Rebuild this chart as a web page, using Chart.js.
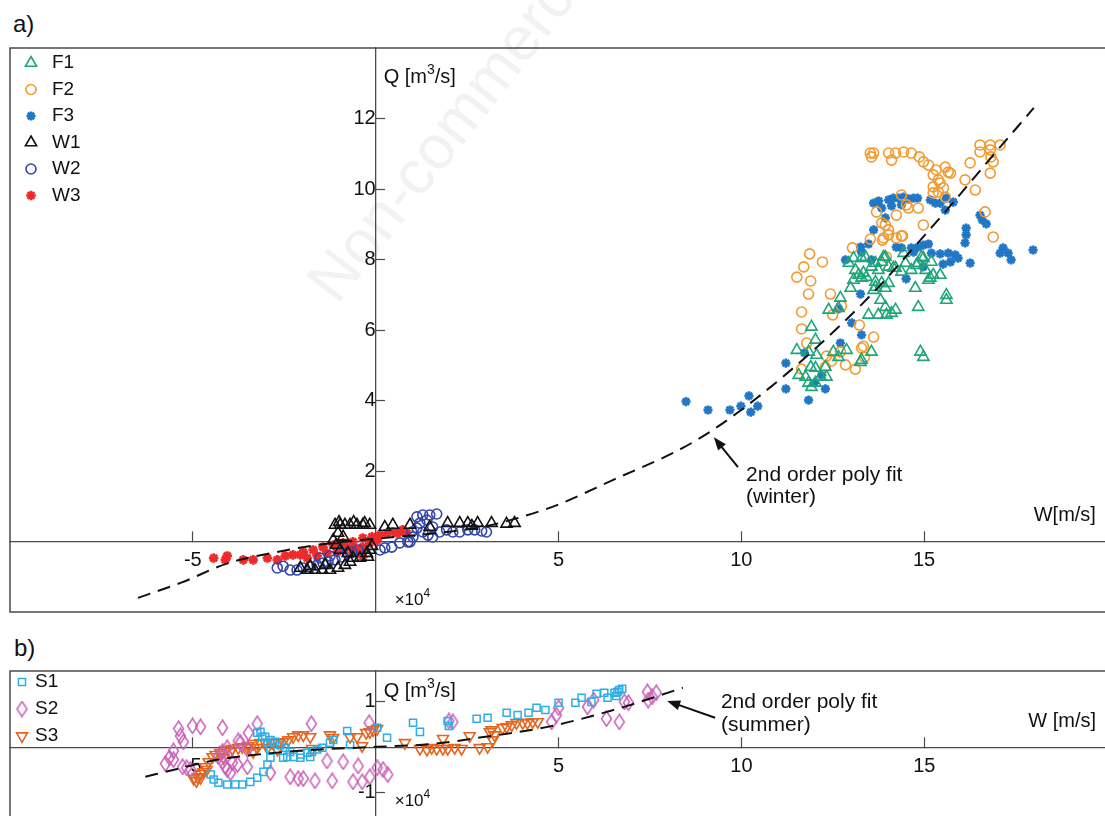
<!DOCTYPE html>
<html>
<head>
<meta charset="utf-8">
<script src="https://cdn.jsdelivr.net/npm/chart.js@4.4.0/dist/chart.umd.min.js"></script>
<style>
  html, body { margin: 0; padding: 0; background: #fff; overflow: hidden; }
  body { width: 1105px; height: 816px; position: relative; font-family: "Liberation Sans", Arial, sans-serif; color: #111; }
  .tag { position: absolute; font-size: 24px; line-height: 24px; }
  .wm { position: absolute; left: 345px; top: 250px; font-size: 62px; line-height: 62px; color: #f2f2f2;
        transform-origin: left bottom; transform: rotate(-52deg); white-space: nowrap; }
  canvas { position: absolute; left: 0; }
  #chartA { top: 38px; }
  #chartB { top: 660px; }
</style>
</head>
<body>
<div class="wm">Non-commercial</div>
<div class="tag" style="left:13px; top:12px;">a)</div>
<div class="tag" style="left:14px; top:636px;">b)</div>
<canvas id="chartA" width="1115" height="584"></canvas>
<canvas id="chartB" width="1115" height="170"></canvas>
<script>
// tick labels
const xTickLabels = [-5, 5, 10, 15];
const yTickLabelsA = [2, 4, 6, 8, 10, 12];
const yTickLabelsB = [-1, 1];

// panel a) winter / autumn series, [W (x1e4 m/s), Q (m3/s)]
const F1 = [[11.52,5.43],[11.57,4.72],[11.76,4.67],[11.84,4.50],[11.90,4.95],[11.92,4.38],[12.03,4.50],[12.03,4.92],[12.17,4.67],[12.30,4.95],[12.33,4.67],[11.92,6.09],[12.03,5.72],[11.84,5.38],[12.06,5.29],[12.52,5.38],[12.66,5.23],[12.88,5.43],[13.26,5.09],[13.56,5.38],[12.39,6.57],[12.66,6.62],[12.71,6.91],[12.99,7.19],[12.94,7.90],[13.07,8.04],[13.12,7.70],[13.21,7.56],[13.34,7.62],[13.29,7.48],[13.42,7.50],[13.07,7.42],[13.56,7.79],[13.67,7.90],[13.84,7.93],[13.94,8.07],[13.75,7.70],[14.03,7.79],[14.22,7.76],[14.49,7.90],[14.38,7.65],[14.65,7.70],[14.84,7.90],[14.98,8.04],[15.04,7.70],[15.20,7.93],[15.17,7.48],[13.67,7.36],[13.84,7.33],[14.03,7.33],[13.67,7.22],[13.62,7.13],[13.94,7.19],[14.76,7.19],[13.81,6.85],[13.94,6.65],[14.84,6.65],[13.48,6.43],[13.75,6.43],[13.97,6.43],[14.11,6.48],[14.22,6.57],[14.90,5.38],[14.98,5.23],[13.29,8.04],[13.40,8.07],[13.89,8.07],[14.16,7.76],[14.44,8.18],[14.79,7.84],[14.93,8.07],[15.25,7.56],[15.44,7.56],[15.12,7.42],[15.61,6.99],[15.61,6.85],[13.29,5.15]];
const F2 = [[13.53,11.02],[13.62,11.02],[13.56,10.91],[13.70,9.35],[13.53,8.58],[13.04,8.33],[11.87,8.16],[12.22,7.93],[11.71,7.79],[11.52,7.50],[11.90,7.39],[11.84,7.02],[12.44,7.02],[11.65,6.51],[12.50,6.43],[12.74,6.68],[11.65,6.03],[13.23,6.14],[11.79,5.63],[13.62,5.80],[13.34,5.54],[12.33,5.26],[12.47,5.12],[12.71,5.38],[12.30,4.95],[11.65,4.89],[12.85,5.01],[13.12,4.89],[13.37,5.23],[13.86,8.55],[14.03,8.70],[14.41,8.67],[14.24,8.61],[13.97,8.07],[14.03,11.02],[14.22,11.02],[14.11,10.82],[14.44,11.05],[14.65,11.02],[14.87,10.91],[14.98,10.77],[15.12,10.68],[15.33,10.54],[15.58,10.62],[15.66,10.48],[15.72,10.45],[15.25,10.40],[15.39,10.26],[15.44,10.17],[15.25,10.06],[15.53,10.03],[15.39,9.91],[15.25,9.89],[15.58,9.77],[14.38,9.83],[14.52,9.55],[14.57,9.46],[14.84,9.46],[14.24,9.26],[13.84,9.04],[13.94,8.98],[14.03,8.84],[13.89,8.61],[14.38,8.67],[14.98,8.98],[16.26,10.74],[16.12,10.26],[16.40,9.97],[16.53,11.25],[16.81,11.25],[17.08,11.25],[16.53,11.05],[16.81,11.11],[16.83,10.91],[16.89,10.77],[16.81,10.45],[16.67,9.35],[16.89,8.64],[13.29,5.49]];
const F3 = [[8.49,3.97],[9.09,3.73],[9.69,3.73],[9.99,3.84],[10.21,4.13],[10.26,3.67],[10.45,3.84],[11.22,4.33],[11.84,4.01],[12.30,4.33],[12.00,4.50],[11.22,5.06],[11.73,5.35],[12.20,4.72],[12.71,5.63],[13.02,6.20],[13.29,5.86],[12.66,6.60],[13.26,7.02],[12.85,7.99],[13.29,8.21],[13.48,8.44],[13.62,8.84],[13.62,9.60],[13.76,9.66],[14.03,9.69],[14.16,9.74],[14.30,9.74],[14.44,9.77],[14.57,9.72],[14.71,9.74],[14.82,9.74],[13.84,9.46],[14.11,9.52],[14.38,9.55],[15.17,9.69],[15.31,9.60],[15.44,9.60],[15.61,9.74],[15.80,9.63],[15.58,9.40],[13.94,9.18],[13.56,7.99],[14.24,8.35],[14.38,8.33],[14.65,8.33],[14.84,8.35],[14.98,8.41],[15.12,8.44],[14.71,8.21],[14.98,7.79],[14.51,7.45],[15.20,8.18],[15.44,8.16],[15.66,8.18],[15.85,8.13],[15.93,8.04],[15.72,7.93],[15.52,7.87],[16.26,7.90],[16.12,8.47],[16.15,8.70],[16.15,8.89],[16.53,9.26],[16.59,9.12],[16.70,9.01],[17.08,8.18],[17.16,8.33],[17.30,8.18],[17.38,7.99],[17.98,8.27],[13.26,8.35]];
const W1 = [[-1.11,0.47],[-0.97,0.47],[-0.84,0.47],[-0.70,0.47],[-0.51,0.47],[-0.35,0.47],[-0.16,0.47],[-1.00,0.55],[-0.60,0.55],[-0.30,0.52],[0.25,0.41],[0.47,0.47],[0.94,0.47],[1.48,0.41],[1.97,0.52],[2.30,0.52],[2.52,0.52],[2.63,0.44],[2.79,0.52],[3.17,0.52],[3.58,0.50],[3.80,0.52],[-1.03,0.24],[-0.89,0.13],[-1.16,0.04],[-1.08,-0.10],[-0.97,-0.24],[-0.76,-0.33],[-0.62,-0.47],[-0.43,-0.47],[-0.24,-0.33],[-0.16,-0.24],[-0.21,-0.44],[-0.10,-0.13],[-0.70,-0.58],[-0.84,-0.67],[-1.03,-0.75],[-1.25,-0.81],[-1.46,-0.81],[-1.66,-0.81],[-1.87,-0.81],[-2.06,-0.75],[-1.38,-0.67],[-1.79,-0.70]];
const W2 = [[-2.69,-0.75],[-2.53,-0.70],[-2.34,-0.81],[-2.15,-0.81],[-1.98,-0.75],[-1.79,-0.72],[-1.60,-0.67],[-1.44,-0.61],[-1.30,-0.58],[-1.11,-0.52],[-0.92,-0.44],[-0.78,-0.33],[-0.65,-0.30],[-0.48,-0.24],[0.12,-0.24],[0.25,-0.18],[0.44,-0.16],[0.66,-0.04],[0.88,-0.01],[1.02,0.13],[0.99,0.27],[1.13,0.38],[1.21,0.52],[1.13,0.70],[1.29,0.75],[1.48,0.75],[1.67,0.78],[1.40,0.61],[1.56,0.41],[1.29,0.27],[1.43,0.18],[1.56,0.13],[1.75,0.27],[1.94,0.33],[2.11,0.27],[2.30,0.27],[2.52,0.33],[2.71,0.33],[2.90,0.30],[3.03,0.27],[0.94,-0.01],[-1.52,-0.47],[-1.25,-0.41]];
const W3 = [[-4.43,-0.47],[-4.11,-0.52],[-4.06,-0.41],[-3.62,-0.52],[-3.35,-0.52],[-2.96,-0.47],[-2.69,-0.52],[-2.47,-0.41],[-2.26,-0.38],[-1.98,-0.30],[-1.71,-0.24],[-1.44,-0.16],[-1.16,-0.10],[-0.89,-0.04],[-0.62,-0.01],[-0.35,0.10],[-0.10,0.13],[0.12,0.18],[0.31,0.24],[0.47,0.27],[0.66,0.27],[0.85,0.24],[-1.87,-0.47],[-1.60,-0.41],[-0.62,-0.33],[-0.35,-0.44],[-0.89,-0.24],[-0.51,-0.24],[-0.35,-0.16],[-0.43,-0.33],[-0.70,-0.16],[-1.33,-0.33],[-1.06,-0.30],[-2.06,-0.38],[0.58,0.24],[0.74,0.33],[0.04,0.04],[-0.16,-0.04]];
const fitWinter = [[-6.5,-1.60],[-5.3,-1.16],[-4.05,-0.62],[-2.7,-0.30],[-1.6,-0.10],[0,0.08],[1.5,0.22],[2.85,0.40],[4,0.70],[5,1.05],[6.5,1.75],[8.3,2.60],[9.2,3.15],[10.4,4.05],[12.0,5.45],[13.6,7.05],[14.6,8.20],[15.7,9.50],[16.8,10.85],[18.0,12.3]];

// panel b) summer series
const S1 = [[-4.51,-0.60],[-4.43,-0.71],[-4.30,-0.78],[-4.06,-0.82],[-3.84,-0.82],[-3.65,-0.82],[-3.43,-0.76],[-3.24,-0.67],[-3.07,-0.54],[-2.96,-0.38],[-2.88,-0.23],[-2.88,-0.05],[-2.96,0.10],[-3.10,0.23],[-3.24,0.32],[-3.15,0.34],[-3.02,0.23],[-2.88,0.16],[-2.75,0.12],[-2.61,0.05],[-2.47,-0.01],[-2.34,-0.10],[-2.42,-0.21],[-2.25,-0.21],[-2.06,-0.16],[-1.87,-0.12],[-1.74,-0.10],[-1.60,-0.05],[-1.46,-0.01],[-1.25,0.10],[-1.16,0.16],[-0.78,0.36],[-0.70,0.05],[0.04,0.43],[0.31,0.21],[1.02,0.54],[1.21,0.34],[1.97,0.58],[2.00,0.47],[2.76,0.63],[3.06,0.65],[3.58,0.76],[3.88,0.71],[4.18,0.76],[4.40,0.87],[4.64,0.82],[5.00,0.98],[5.46,0.98],[5.63,1.09],[5.90,1.00],[6.04,1.18],[6.25,1.20],[6.34,1.09],[6.53,1.20],[6.61,1.22],[6.66,1.26],[6.74,1.29],[6.58,1.13],[-2.53,-0.23],[-2.06,-0.23],[-1.79,-0.21]];
const S2 = [[-5.39,0.41],[-5.01,0.47],[-4.79,0.45],[-5.34,0.25],[-5.26,0.12],[-5.53,-0.08],[-5.64,-0.23],[-5.75,-0.36],[-5.53,-0.27],[-5.28,-0.43],[-5.17,-0.45],[-5.06,-0.49],[-4.19,0.43],[-3.48,0.32],[-3.24,0.52],[-3.76,0.14],[-3.70,0.10],[-4.06,-0.01],[-4.19,-0.10],[-4.30,-0.21],[-4.19,-0.32],[-4.11,-0.43],[-4.06,-0.49],[-3.92,-0.34],[-3.97,-0.56],[-3.78,-0.38],[-3.51,-0.05],[-3.51,-0.43],[-2.88,-0.56],[-2.34,-0.65],[-2.12,-0.69],[-1.98,-0.69],[-1.66,-0.74],[-1.19,-0.74],[-1.76,0.52],[-1.33,-0.30],[-0.89,-0.32],[-0.48,-0.41],[-0.62,-0.76],[-0.37,-0.76],[0.04,-0.45],[0.20,-0.49],[0.33,-0.60],[-0.16,-0.65],[-0.18,0.54],[2.00,0.58],[2.11,0.56],[4.81,0.56],[4.94,0.71],[5.00,0.87],[5.79,0.89],[5.96,1.04],[6.31,0.63],[6.66,0.56],[6.80,1.00],[6.91,0.98],[7.43,1.22],[7.56,1.11],[7.67,1.20],[7.45,1.04]];
const S3 = [[-4.98,-0.69],[-4.87,-0.65],[-4.79,-0.58],[-4.71,-0.54],[-4.66,-0.43],[-4.57,-0.32],[-4.46,-0.21],[-4.38,-0.16],[-4.25,-0.12],[-4.11,-0.05],[-3.92,-0.03],[-3.76,-0.01],[-3.65,0.01],[-3.48,0.03],[-3.35,0.08],[-3.16,0.10],[-3.02,0.10],[-2.83,0.10],[-2.66,0.10],[-2.53,0.12],[-2.39,0.16],[-2.26,0.23],[-2.12,0.27],[-1.98,0.27],[-1.79,0.23],[-2.69,-0.05],[-3.35,-0.10],[-1.25,0.27],[-1.16,0.21],[-0.70,0.23],[-0.51,0.23],[-0.37,0.03],[-0.26,0.32],[-0.16,0.34],[-0.07,0.38],[0.04,0.41],[0.80,0.10],[1.21,-0.03],[1.40,-0.05],[1.53,-0.01],[1.67,-0.03],[1.84,-0.03],[1.97,-0.03],[2.16,-0.01],[2.35,-0.03],[1.84,0.19],[2.57,0.25],[2.84,-0.01],[3.06,0.01],[3.12,0.34],[3.20,0.16],[3.25,0.27],[3.17,0.38],[3.47,0.43],[3.58,0.45],[3.72,0.49],[3.85,0.54],[4.02,0.54],[4.15,0.54],[4.29,0.56],[4.43,0.56],[-1.74,-0.03],[-4.90,-0.74],[-4.79,-0.67],[-4.62,-0.49],[-4.16,-0.23],[-3.97,-0.10],[-3.51,-0.01],[-3.24,-0.01],[-2.96,-0.01]];
const fitSummer = [[-6.3,-0.65],[-5.4,-0.47],[-4.3,-0.27],[-3.0,-0.14],[-2.0,-0.07],[0,0.01],[1.5,0.07],[2.9,0.22],[4.7,0.45],[6.5,0.82],[8.4,1.31]];

const FONT = '"Liberation Sans", Arial, Helvetica, sans-serif';
const AXIS = '#4a4a4a';
Chart.defaults.font.family = FONT;
Chart.defaults.color = '#111';

const toXY = arr => arr.map(p => ({x: p[0], y: p[1]}));
const zeroPad = s => { s.paddingLeft = 0; s.paddingRight = 0; s.paddingTop = 0; s.paddingBottom = 0; };

// tall diamond marker for S2
function tallDiamond(color) {
  const c = document.createElement('canvas');
  c.width = 13; c.height = 17;
  const g = c.getContext('2d');
  g.strokeStyle = color;
  g.lineWidth = 1.5;
  g.beginPath();
  g.moveTo(6.5, 1); g.lineTo(11.5, 8.5); g.lineTo(6.5, 16); g.lineTo(1.5, 8.5);
  g.closePath();
  g.stroke();
  return c;
}

function marks(label, data, style, color, radius, width, rotation) {
  return {
    label, data: toXY(data), showLine: false,
    pointStyle: style, pointRotation: rotation || 0, pointRadius: radius, pointBorderWidth: width,
    borderColor: color, backgroundColor: 'rgba(0,0,0,0)', inLegend: true
  };
}
function fit(data) {
  return {
    label: 'fit', data: toXY(data), showLine: true, pointRadius: 0, order: -1,
    borderColor: '#111', borderWidth: 2, borderDash: [13, 8],
    cubicInterpolationMode: 'monotone', backgroundColor: 'rgba(0,0,0,0)'
  };
}

function axes(xr, yr, yStep, yLabels) {
  const tickCol = list => c => (c.tick && list.includes(c.tick.value)) ? AXIS : 'rgba(0,0,0,0)';
  return {
    x: {
      type: 'linear', min: xr[0], max: xr[1], position: {y: 0}, afterFit: zeroPad,
      border: {color: AXIS, width: 1.3},
      grid: {drawOnChartArea: false, tickLength: -11, tickWidth: 1.2, tickColor: tickCol(xTickLabels)},
      ticks: {stepSize: 5, padding: 18, autoSkip: false, maxRotation: 0, font: {size: 20}, color: '#111',
              callback: v => xTickLabels.includes(v) ? String(v) : ''}
    },
    y: {
      type: 'linear', min: yr[0], max: yr[1], position: {x: 0}, afterFit: zeroPad,
      border: {color: AXIS, width: 1.3},
      grid: {drawOnChartArea: false, tickLength: -10, tickWidth: 1.2, tickColor: tickCol(yLabels)},
      ticks: {stepSize: yStep, padding: 0, autoSkip: false, font: {size: 20}, color: '#111',
              callback: v => yLabels.includes(v) ? String(v) : ''}
    }
  };
}

// text with superscripts: parts = [[text, isSup], ...]
function richText(ctx, x, y, parts, size, align) {
  const widths = parts.map(([t, sup]) => {
    ctx.font = (sup ? Math.round(size * 0.68) : size) + 'px ' + FONT;
    return ctx.measureText(t).width;
  });
  const total = widths.reduce((a, b) => a + b, 0);
  let cx = align === 'right' ? x - total : x;
  parts.forEach(([t, sup], i) => {
    ctx.font = (sup ? Math.round(size * 0.68) : size) + 'px ' + FONT;
    ctx.fillText(t, cx, sup ? y - size * 0.45 : y);
    cx += widths[i];
  });
}

const decor = {
  id: 'decor',
  afterDraw(chart, args, opts) {
    const {ctx, chartArea: ca, scales} = chart;
    const px = v => scales.x.getPixelForValue(v);
    const py = v => scales.y.getPixelForValue(v);
    ctx.save();
    // frame
    ctx.strokeStyle = AXIS;
    ctx.lineWidth = 1.5;
    ctx.strokeRect(ca.left, ca.top, ca.right - ca.left, ca.bottom - ca.top);
    // legend
    const lg = opts.legend;
    ctx.textBaseline = 'middle';
    chart.data.datasets.filter(d => d.inLegend).forEach((d, i) => {
      const y = ca.top + lg.y0 + i * lg.step;
      ctx.strokeStyle = d.borderColor;
      ctx.fillStyle = 'rgba(0,0,0,0)';
      ctx.lineWidth = d.pointBorderWidth;
      Chart.helpers.drawPoint(ctx, {pointStyle: d.pointStyle, rotation: d.pointRotation, radius: d.pointRadius, borderWidth: d.pointBorderWidth}, ca.left + lg.mx, y);
      ctx.fillStyle = '#111';
      ctx.font = lg.size + 'px ' + FONT;
      ctx.fillText(d.label, ca.left + lg.tx, y);
    });
    // texts
    ctx.textBaseline = 'alphabetic';
    ctx.fillStyle = '#111';
    opts.texts.forEach(t => richText(ctx, px(t.x) + (t.dx || 0), py(t.y), t.parts, t.size, t.align));
    // arrows
    opts.arrows.forEach(a => {
      const x1 = px(a.from[0]), y1 = py(a.from[1]), x2 = px(a.to[0]), y2 = py(a.to[1]);
      const ang = Math.atan2(y2 - y1, x2 - x1);
      const hl = 13, hw = 5;
      ctx.strokeStyle = '#111';
      ctx.lineWidth = 2;
      ctx.beginPath();
      ctx.moveTo(x1, y1);
      ctx.lineTo(x2 - Math.cos(ang) * hl * 0.8, y2 - Math.sin(ang) * hl * 0.8);
      ctx.stroke();
      ctx.fillStyle = '#111';
      ctx.beginPath();
      ctx.moveTo(x2, y2);
      ctx.lineTo(x2 - Math.cos(ang) * hl - Math.sin(ang) * hw, y2 - Math.sin(ang) * hl + Math.cos(ang) * hw);
      ctx.lineTo(x2 - Math.cos(ang) * hl + Math.sin(ang) * hw, y2 - Math.sin(ang) * hl - Math.cos(ang) * hw);
      ctx.closePath();
      ctx.fill();
    });
    ctx.restore();
  }
};

const common = {
  responsive: false, animation: false, events: [],
  plugins: {legend: {display: false}, tooltip: {enabled: false}}
};

new Chart(document.getElementById('chartA'), {
  type: 'scatter',
  data: {
    datasets: [
      marks('F1', F1, 'triangle', '#1fa57a', 6.5, 1.6),
      marks('F2', F2, 'circle', '#f29b30', 5, 1.6),
      marks('F3', F3, 'star', '#2177c6', 4.6, 2.6),
      marks('W1', W1, 'triangle', '#111111', 6.5, 1.6),
      marks('W2', W2, 'circle', '#3345aa', 5, 1.6),
      marks('W3', W3, 'star', '#ee2b2b', 4.8, 2.7),
      fit(fitWinter)
    ]
  },
  options: Object.assign({}, common, {
    layout: {padding: {left: 10, right: 5, top: 10, bottom: 10}},
    scales: axes([-10, 20], [-2, 14], 2, yTickLabelsA),
    plugins: Object.assign({}, common.plugins, {
      decor: {
        legend: {mx: 21, tx: 42, y0: 15, step: 26.5, size: 19},
        texts: [
          {x: 0, dx: 8, y: 13.0, size: 20, parts: [['Q [m', false], ['3', true], ['/s]', false]]},
          {x: 19.7, y: 0.58, size: 20, align: 'right', parts: [['W[m/s]', false]]},
          {x: 0, dx: 19, y: -1.80, size: 17, parts: [['\u00d710', false], ['4', true]]},
          {x: 10.13, y: 1.72, size: 21, parts: [['2nd order poly fit', false]]},
          {x: 10.13, y: 1.08, size: 21, parts: [['(winter)', false]]}
        ],
        arrows: [{from: [9.91, 2.11], to: [9.25, 2.96]}]
      }
    })
  }),
  plugins: [decor]
});

new Chart(document.getElementById('chartB'), {
  type: 'scatter',
  data: {
    datasets: [
      marks('S1', S1, 'rect', '#2faee6', 5, 1.5),
      marks('S2', S2, tallDiamond('#c862b8'), '#c862b8', 6, 1.5),
      marks('S3', S3, 'triangle', '#e5641e', 6.3, 1.6, 180),
      fit(fitSummer)
    ]
  },
  options: Object.assign({}, common, {
    layout: {padding: {left: 10, right: 5, top: 11, bottom: 10}},
    scales: axes([-10, 20], [-1.6, 1.68], 1, yTickLabelsB),
    plugins: Object.assign({}, common.plugins, {
      decor: {
        legend: {mx: 12, tx: 25, y0: 11, step: 27, size: 19},
        texts: [
          {x: 0, dx: 8, y: 1.11, size: 20, parts: [['Q [m', false], ['3', true], ['/s]', false]]},
          {x: 19.7, y: 0.45, size: 20, align: 'right', parts: [['W [m/s]', false]]},
          {x: 0, dx: 19, y: -1.29, size: 17, parts: [['\u00d710', false], ['4', true]]},
          {x: 9.44, y: 0.86, size: 21, parts: [['2nd order poly fit', false]]},
          {x: 9.44, y: 0.36, size: 21, parts: [['(summer)', false]]}
        ],
        arrows: [{from: [9.28, 0.65], to: [7.97, 1.02]}]
      }
    })
  }),
  plugins: [decor]
});
</script>
</body>
</html>
